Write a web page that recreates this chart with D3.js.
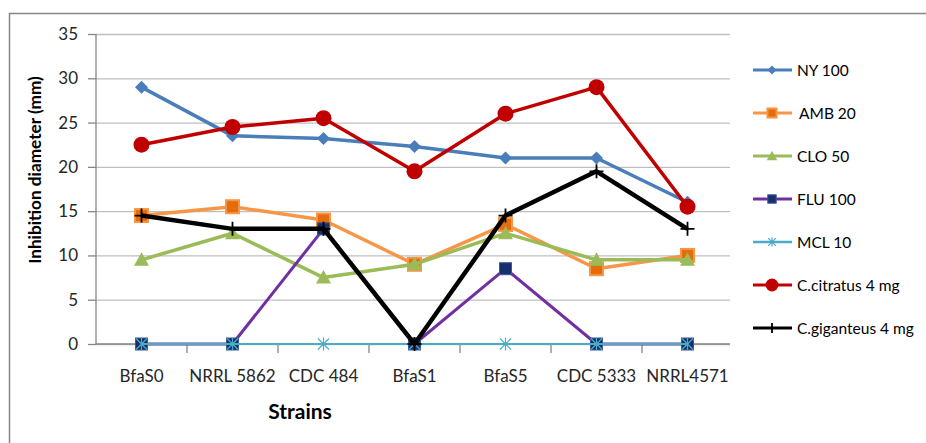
<!DOCTYPE html>
<html>
<head>
<meta charset="utf-8">
<script src="https://cdn.jsdelivr.net/npm/d3@7"></script>
<style>
  html, body { margin: 0; padding: 0; background: #fff; }
  svg { display: block; font-family: Lato, "Open Sans", sans-serif; }
</style>
</head>
<body>
<svg id="chart" width="926" height="443"></svg>
<script>
// Strains tested and inhibition diameters (mm) per treatment
const strains = ["BfaS0", "NRRL 5862", "CDC 484", "BfaS1", "BfaS5", "CDC 5333", "NRRL4571"];
const yTicks = [0, 5, 10, 15, 20, 25, 30, 35];

const ny100      = [29, 23.5, 23.2, 22.3, 21, 21, 16];
const amb20      = [14.5, 15.5, 14, 9, 13.5, 8.5, 10];
const clo50      = [9.5, 12.5, 7.5, 9, 12.5, 9.5, 9.5];
const flu100     = [0, 0, 13, 0, 8.5, 0, 0];
const mcl10      = [0, 0, 0, 0, 0, 0, 0];
const cCitratus  = [22.5, 24.5, 25.5, 19.5, 26, 29, 15.5];
const cGiganteus = [14.5, 13, 13, 0, 14.5, 19.5, 13];

const series = [
  { name: "NY 100",           values: ny100,      line: "#4A7EBB", width: 3.5, marker: "diamond",  fill: "#4A7EBB", stroke: "#4A7EBB" },
  { name: "AMB 20",           values: amb20,      line: "#F79646", width: 3.5, marker: "square",   fill: "#E46C0A", stroke: "#F79646" },
  { name: "CLO 50",           values: clo50,      line: "#9BBB59", width: 3.5, marker: "triangle", fill: "#9BBB59", stroke: "#9BBB59" },
  { name: "FLU 100",          values: flu100,     line: "#7030A0", width: 3,   marker: "navy",     fill: "#17306B", stroke: "#3A5A9A" },
  { name: "MCL 10",           values: mcl10,      line: "#4BACC6", width: 2,   marker: "asterisk", fill: "none",    stroke: "#4BACC6" },
  { name: "C.citratus 4 mg",  values: cCitratus,  line: "#C00000", width: 3.5, marker: "circle",   fill: "#C00000", stroke: "#C00000" },
  { name: "C.giganteus 4 mg", values: cGiganteus, line: "#000000", width: 4.5, marker: "plus",     fill: "none",    stroke: "#000000" }
];

const svg = d3.select("#chart");
const plot = { left: 96, right: 733, top: 34, bottom: 344 };

// Outer chart frame
svg.append("rect")
  .attr("x", 9.5).attr("y", 13.5)
  .attr("width", 940).attr("height", 460)
  .attr("fill", "#fff").attr("stroke", "#868686").attr("stroke-width", 1.5);

const x = d3.scaleBand().domain(strains).range([plot.left, plot.right]).padding(0);
const y = d3.scaleLinear().domain([0, 35]).range([plot.bottom, plot.top]);

// Horizontal gridlines with outward ticks on the value axis
const yAxis = d3.axisLeft(y).tickValues(yTicks)
  .tickSize(-(plot.right - 3 - plot.left)).tickPadding(18);
const gy = svg.append("g").attr("transform", `translate(${plot.left},0)`).call(yAxis);
gy.select(".domain").remove();
gy.selectAll(".tick line").attr("stroke", "#BFBFBF").attr("stroke-width", 1.3);
gy.selectAll(".tick").append("line")
  .attr("x1", -8).attr("x2", 0).attr("stroke", "#868686").attr("stroke-width", 1.3);
gy.selectAll(".tick text")
  .attr("fill", "#262626").style("font-size", "17px").style("font-family", "Lato, sans-serif");

// Vertical axis line
svg.append("line")
  .attr("x1", plot.left).attr("x2", plot.left)
  .attr("y1", plot.top).attr("y2", plot.bottom)
  .attr("stroke", "#868686").attr("stroke-width", 1.3);

// Category axis: baseline, boundary ticks, labels
svg.append("line")
  .attr("x1", plot.left).attr("x2", plot.right - 3)
  .attr("y1", plot.bottom).attr("y2", plot.bottom)
  .attr("stroke", "#868686").attr("stroke-width", 1.3);
const boundaries = strains.map(s => x(s)).concat([x(strains[strains.length - 1]) + x.bandwidth()]);
svg.append("g").selectAll("line").data(boundaries.slice(1, -1)).join("line")
  .attr("x1", d => d).attr("x2", d => d)
  .attr("y1", plot.bottom).attr("y2", plot.bottom + 9)
  .attr("stroke", "#868686").attr("stroke-width", 1.3);
svg.append("g").selectAll("text").data(strains).join("text")
  .attr("x", d => x(d) + x.bandwidth() / 2)
  .attr("y", 382)
  .attr("text-anchor", "middle")
  .attr("fill", "#262626")
  .style("font-size", "17px")
  .text(d => d);

// Axis titles
svg.append("text")
  .attr("x", 300).attr("y", 419)
  .attr("text-anchor", "middle")
  .style("font-size", "21px").style("font-weight", "bold")
  .text("Strains");
svg.append("text")
  .attr("transform", "translate(41,170) rotate(-90)")
  .attr("text-anchor", "middle")
  .style("font-size", "17.2px").style("font-weight", "bold")
  .text("Inhibition diameter (mm)");

// Marker drawing helper
function drawMarker(g, s, size) {
  const k = size;
  switch (s.marker) {
    case "diamond":
      g.append("path").attr("d", `M0,${-6.5*k}L${6.5*k},0L0,${6.5*k}L${-6.5*k},0Z`)
        .attr("fill", s.fill);
      break;
    case "square":
      g.append("rect").attr("x", -6.5*k).attr("y", -6.5*k).attr("width", 13*k).attr("height", 13*k)
        .attr("fill", s.fill).attr("stroke", s.stroke).attr("stroke-width", 2);
      break;
    case "triangle":
      g.append("path").attr("d", `M0,${-7.5*k}L${7.5*k},${6*k}L${-7.5*k},${6*k}Z`)
        .attr("fill", s.fill);
      break;
    case "navy":
      g.append("rect").attr("x", -6*k).attr("y", -6*k).attr("width", 12*k).attr("height", 12*k)
        .attr("fill", s.fill).attr("stroke", s.stroke).attr("stroke-width", 1);
      break;
    case "asterisk":
      g.append("path").attr("d",
        `M${-5.5*k},${-5.5*k}L${5.5*k},${5.5*k}M${-5.5*k},${5.5*k}L${5.5*k},${-5.5*k}M0,${-6.5*k}L0,${6.5*k}`)
        .attr("stroke", s.stroke).attr("stroke-width", 1.2).attr("fill", "none");
      break;
    case "circle":
      g.append("circle").attr("r", 8*k).attr("fill", s.fill);
      break;
    case "plus":
      g.append("path").attr("d", `M${-7*k},0L${7*k},0M0,${-7*k}L0,${7*k}`)
        .attr("stroke", s.stroke).attr("stroke-width", 1.8).attr("fill", "none");
      break;
  }
}

// Series lines and markers
const line = d3.line().x((d, i) => x(strains[i]) + x.bandwidth() / 2).y(d => y(d));
series.forEach(s => {
  const g = svg.append("g");
  g.append("path").datum(s.values)
    .attr("d", line)
    .attr("fill", "none")
    .attr("stroke", s.line)
    .attr("stroke-width", s.width)
    .attr("stroke-linejoin", "round");
  s.values.forEach((v, i) => {
    const m = g.append("g")
      .attr("transform", `translate(${x(strains[i]) + x.bandwidth() / 2},${y(v)})`);
    drawMarker(m, s, 1);
  });
});

// Legend
const legend = svg.append("g");
series.forEach((s, i) => {
  const ly = 70 + i * 43;
  const g = legend.append("g").attr("transform", `translate(0,${ly})`);
  g.append("line").attr("x1", 753).attr("x2", 792).attr("y1", 0).attr("y2", 0)
    .attr("stroke", s.line).attr("stroke-width", s.marker === "asterisk" ? 2.5 : 3);
  const m = g.append("g").attr("transform", "translate(772,0)");
  drawMarker(m, s, s.marker === "circle" ? 0.8 : 0.7);
  g.append("text").attr("x", s.name === "AMB 20" ? 799 : 797).attr("y", 0).attr("dy", "0.36em")
    .attr("fill", "#000")
    .style("font-size", "15.5px")
    .text(s.name);
});
</script>
</body>
</html>
